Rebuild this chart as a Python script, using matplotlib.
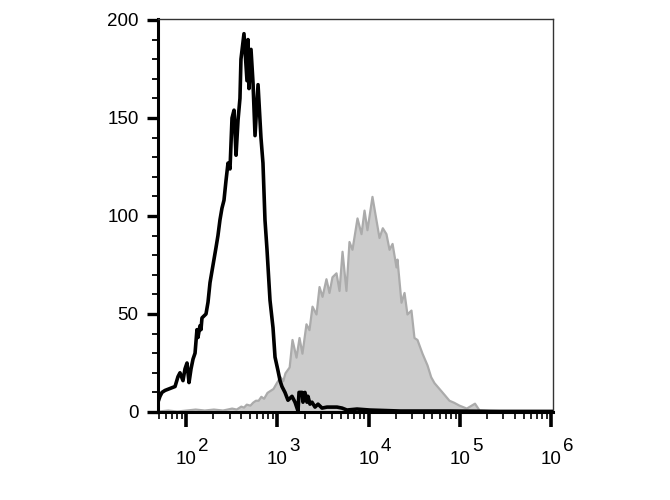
import numpy as np
import matplotlib
matplotlib.use("Agg")
import matplotlib.pyplot as plt
from matplotlib.ticker import FixedLocator, NullFormatter

plt.rcParams['font.family'] = ['Liberation Sans', 'DejaVu Sans']

# Unstained control (black line): log10 fluorescence, count
ctrl_log = [1.693, 1.715, 1.737, 1.770, 1.825, 1.880, 1.912, 1.934, 1.967, 1.989,
            2.011, 2.033, 2.055, 2.077, 2.099, 2.120, 2.131, 2.153, 2.164, 2.175,
            2.197, 2.219, 2.241, 2.263, 2.285, 2.307, 2.329, 2.350, 2.372, 2.394,
            2.416, 2.438, 2.460, 2.482, 2.504, 2.526, 2.548, 2.570, 2.591, 2.602,
            2.635, 2.668, 2.679, 2.690, 2.712, 2.734, 2.756, 2.789, 2.821, 2.843,
            2.865, 2.887, 2.920, 2.953, 2.975, 3.008, 3.030, 3.051, 3.084, 3.117,
            3.161, 3.194, 3.227, 3.238, 3.271, 3.281, 3.303, 3.325, 3.336, 3.358,
            3.380, 3.413, 3.446, 3.490, 3.544, 3.599, 3.654, 3.709, 3.763, 3.873,
            4.015, 4.344, 4.892, 5.439, 6.020]
ctrl_cnt = [5, 8, 10, 11, 12, 13, 18, 20, 16, 22,
            25, 15, 22, 27, 30, 42, 38, 44, 42, 48,
            49, 50, 56, 66, 72, 78, 84, 90, 98, 104,
            108, 118, 127, 124, 150, 154, 131, 149, 160, 180,
            193, 169, 190, 165, 185, 168, 141, 167, 140, 127,
            98, 83, 57, 43, 28, 21, 16, 13, 10, 6,
            8, 5, 0.5, 10, 10, 5, 10, 5, 8, 4,
            5, 2.5, 4, 2, 2.5, 2.5, 2.5, 2, 1, 1.5,
            1, 0.5, 0.5, 0.3, 0.3]

# Stained sample (grey filled)
stain_log = [1.693, 1.80, 1.90, 2.00, 2.10, 2.20, 2.30, 2.40, 2.50, 2.55,
             2.60, 2.63, 2.66, 2.70, 2.73, 2.76, 2.79, 2.82, 2.85, 2.887,
             2.92, 2.953, 2.99, 3.030, 3.060, 3.084, 3.13, 3.161, 3.205, 3.238,
             3.27, 3.314, 3.347, 3.38, 3.424, 3.457, 3.49, 3.533, 3.566, 3.599,
             3.643, 3.676, 3.709, 3.752, 3.785, 3.818, 3.873, 3.917, 3.950, 3.982,
             4.037, 4.081, 4.114, 4.15, 4.19, 4.224, 4.257, 4.300, 4.311, 4.355,
             4.388, 4.42, 4.464, 4.497, 4.530, 4.585, 4.64, 4.68, 4.716, 4.771,
             4.826, 4.88, 4.93, 4.99, 5.07, 5.16, 5.21, 5.40, 6.02]
stain_cnt = [0.5, 1, 0.5, 1, 1.5, 1, 1.5, 1, 2, 1.5,
             3, 2.5, 4, 3.5, 5, 6, 6, 8, 7, 10,
             11, 12, 15, 18, 16, 20, 23, 37, 28, 38,
             30, 45, 42, 54, 50, 64, 59, 68, 61, 69,
             71, 62, 82, 62, 87, 83, 99, 91, 103, 93,
             110, 98, 89, 94, 91, 83, 86, 74, 78, 56,
             61, 50, 52, 38, 37, 30, 24, 18, 15, 12,
             9, 6, 5, 3.5, 2, 4.5, 1, 0.5, 0.3]

y_ticks = [0, 50, 100, 150, 200]
x_decades = [2, 3, 4, 5, 6]

fig = plt.figure(figsize=(6.7, 5.0), dpi=100)
ax = fig.add_axes([158/670, 1-412/500, (553-158)/670, (412-19)/500])

sx = 10**np.array(stain_log)
cx = 10**np.array(ctrl_log)
ax.fill_between(sx, 0, stain_cnt, facecolor='#cccccc', edgecolor='#ababab', lw=1.6, zorder=2)
ax.plot(cx, ctrl_cnt, color='black', lw=2.6, zorder=3)

ax.set_xscale('log')
ax.set_xlim(10**1.6933, 10**6.0197)
ax.set_ylim(0, 200.5)

# y ticks
ax.set_yticks(y_ticks)
ax.set_yticklabels([str(v) for v in y_ticks], fontsize=13.5)
ax.yaxis.set_minor_locator(FixedLocator([v for v in range(0, 201, 10) if v % 50]))
ax.tick_params(axis='y', which='major', direction='out', length=8, width=2.4, pad=6)
ax.tick_params(axis='y', which='minor', direction='out', length=4, width=1.3)

# x ticks
ax.set_xticks([10**k for k in x_decades])
ax.xaxis.set_major_formatter(NullFormatter())
ax.xaxis.set_minor_formatter(NullFormatter())
minors = [m * 10**k for k in range(1, 6) for m in range(2, 10)]
ax.xaxis.set_minor_locator(FixedLocator(minors))
ax.tick_params(axis='x', which='major', direction='out', length=11, width=2.6)
ax.tick_params(axis='x', which='minor', direction='out', length=5, width=1.2)

for k in x_decades:
    ax.annotate('10', xy=(10**k, 0), xycoords=('data', 'axes fraction'),
                xytext=(0, -52), textcoords='offset pixels',
                ha='center', va='baseline', fontsize=13.5)
    ax.annotate(str(k), xy=(10**k, 0), xycoords=('data', 'axes fraction'),
                xytext=(12, -39), textcoords='offset pixels',
                ha='left', va='baseline', fontsize=13.5)

for s in ['left', 'bottom']:
    ax.spines[s].set_linewidth(2.2)
for s in ['top', 'right']:
    ax.spines[s].set_linewidth(1.0)
    ax.spines[s].set_color('#333333')

fig.savefig('out.png', dpi=100)
